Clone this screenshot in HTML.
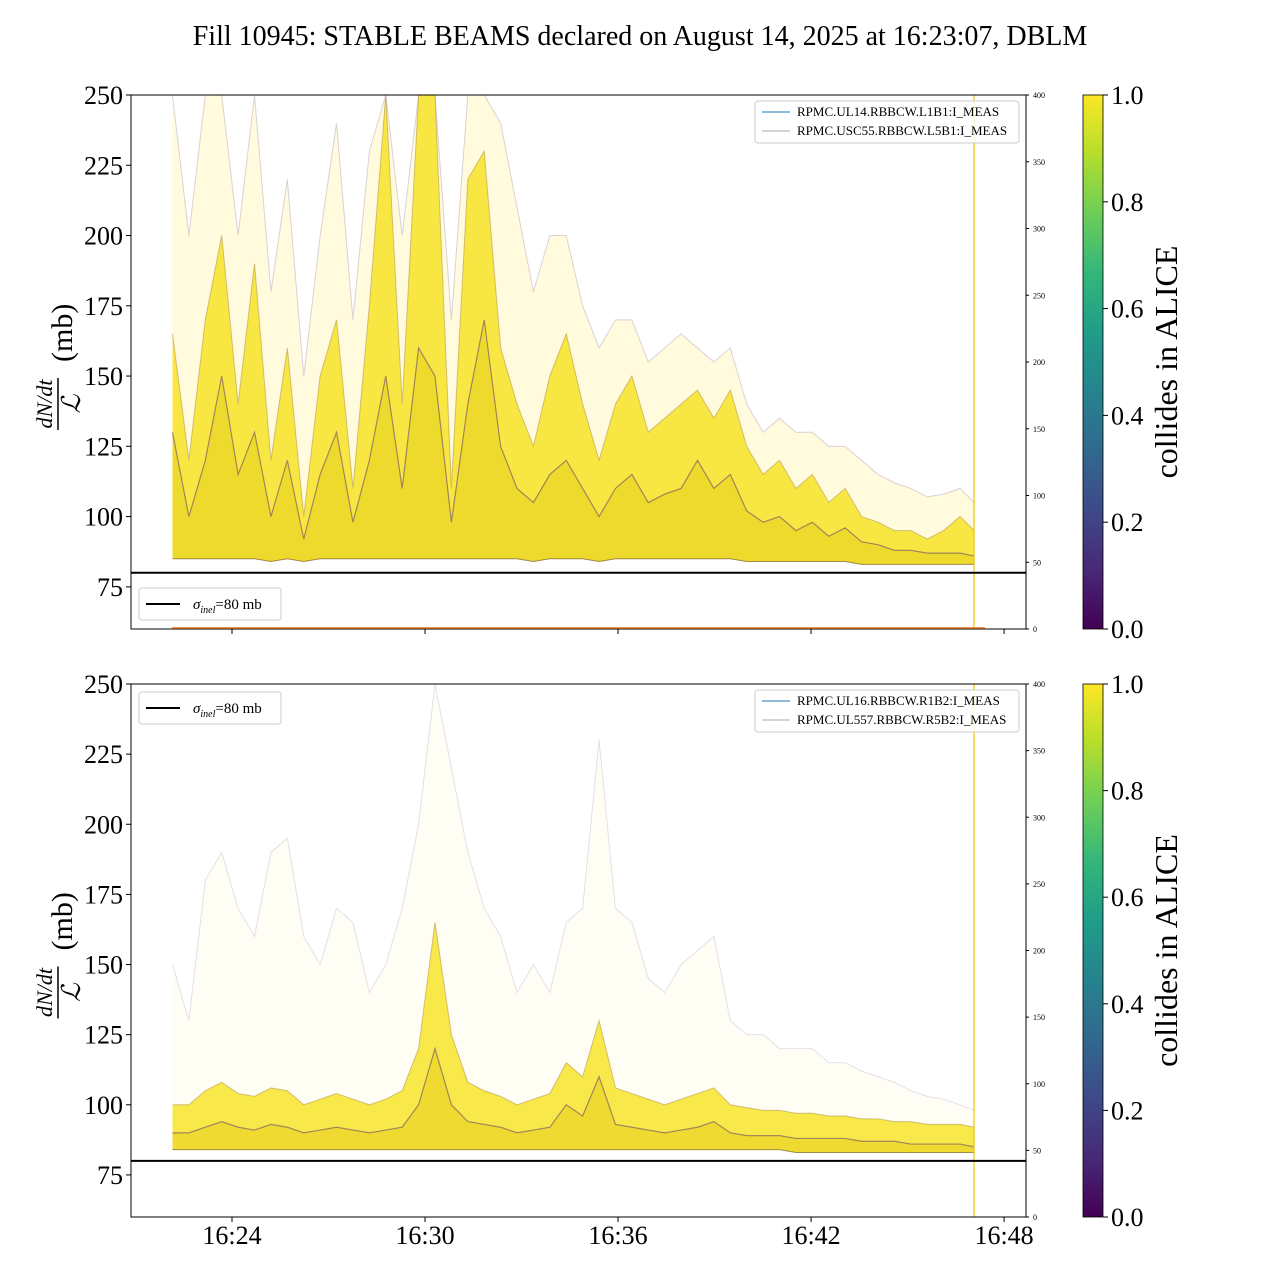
<!DOCTYPE html>
<html><head><meta charset="utf-8">
<style>
html,body{margin:0;padding:0;background:#fff;}
svg text{font-family:"Liberation Serif",serif;}
</style></head>
<body>
<svg id="chart" width="1280" height="1280" xmlns="http://www.w3.org/2000/svg">
<defs>
<linearGradient id="viridis" x1="0" y1="1" x2="0" y2="0">
<stop offset="0" stop-color="#440154"/><stop offset="0.11" stop-color="#482878"/><stop offset="0.22" stop-color="#3e4989"/><stop offset="0.33" stop-color="#31688e"/><stop offset="0.44" stop-color="#26828e"/><stop offset="0.56" stop-color="#1f9e89"/><stop offset="0.67" stop-color="#35b779"/><stop offset="0.78" stop-color="#6ece58"/><stop offset="0.89" stop-color="#b5de2b"/><stop offset="1" stop-color="#fde725"/>
</linearGradient>
</defs>
<text x="640" y="45" font-size="28" text-anchor="middle">Fill 10945: STABLE BEAMS declared on August 14, 2025 at 16:23:07, DBLM</text>
<g id="p0"></g>
<g id="p1"></g>
</svg>
<script>
const times=[22.15,22.66,23.17,23.68,24.19,24.70,25.21,25.72,26.23,26.74,27.25,27.76,28.27,28.78,29.29,29.80,30.31,30.82,31.33,31.84,32.35,32.86,33.37,33.88,34.39,34.90,35.41,35.92,36.43,36.94,37.45,37.96,38.47,38.98,39.49,40.00,40.51,41.02,41.53,42.04,42.55,43.06,43.57,44.08,44.59,45.10,45.61,46.12,46.63,47.07];
const topOuter=[250,200,250,250,200,250,180,220,150,200,240,170,230,250,200,250,250,170,250,250,240,210,180,200,200,175,160,170,170,155,160,165,160,155,160,140,130,135,130,130,125,125,120,115,112,110,107,108,110,105];
const topUpper=[165,120,170,200,140,190,120,160,100,150,170,110,175,250,140,250,250,110,220,230,160,140,125,150,165,140,120,140,150,130,135,140,145,135,145,125,115,120,110,115,105,110,100,98,95,95,92,95,100,95];
const topMid=[130,100,120,150,115,130,100,120,92,115,130,98,120,150,110,160,150,98,140,170,125,110,105,115,120,110,100,110,115,105,108,110,120,110,115,102,98,100,95,98,93,96,91,90,88,88,87,87,87,86];
const topLower=[85,85,85,85,85,85,84,85,84,85,85,85,85,85,85,85,85,85,85,85,85,85,84,85,85,85,84,85,85,85,85,85,85,85,85,84,84,84,84,84,84,84,83,83,83,83,83,83,83,83];
const botOuter=[150,130,180,190,170,160,190,195,160,150,170,165,140,150,170,200,250,220,190,170,160,140,150,140,165,170,230,170,165,145,140,150,155,160,130,125,125,120,120,120,115,115,112,110,108,105,103,102,100,98];
const botUpper=[100,100,105,108,104,103,106,105,100,102,104,102,100,102,105,120,165,125,108,105,103,100,102,104,115,110,130,106,104,102,100,102,104,106,100,99,98,98,97,97,96,96,95,95,94,94,93,93,93,92];
const botMid=[90,90,92,94,92,91,93,92,90,91,92,91,90,91,92,100,120,100,94,93,92,90,91,92,100,96,110,93,92,91,90,91,92,94,90,89,89,89,88,88,88,88,87,87,87,86,86,86,86,85];
const botLower=[84,84,84,84,84,84,84,84,84,84,84,84,84,84,84,84,84,84,84,84,84,84,84,84,84,84,84,84,84,84,84,84,84,84,84,84,84,84,83,83,83,83,83,83,83,83,83,83,83,83];
const yTicks=[75,100,125,150,175,200,225,250];
const rTicks=[0,50,100,150,200,250,300,350,400];
const xTicks=[24,30,36,42,48];
const xTickLabels=["16:24","16:30","16:36","16:42","16:48"];
const cbTicks=[0,0.2,0.4,0.6,0.8,1.0];

const NS="http://www.w3.org/2000/svg";
function mk(tag,attrs,parent){const e=document.createElementNS(NS,tag);for(const k in attrs)e.setAttribute(k,attrs[k]);parent.appendChild(e);return e;}
const L=131,R=1026;
const xs=t=>232+(t-24)*32.17;

function panel(g,top,bot,outer,upper,mid,lower,legNames,sigTop,outerOp,outerLineOp){
  const ys=v=>top+(250-v)*(bot-top)/190;
  const yr=v=>bot-v*(bot-top)/400;
  const cp=mk('clipPath',{id:'c'+top},g);mk('rect',{x:L,y:top,width:R-L,height:bot-top},cp);
  const dg=mk('g',{'clip-path':'url(#c'+top+')'},g);
  function band(a,b,fill,op,name){
    let d='M'+times.map((t,i)=>xs(t)+','+ys(a[i])).join('L');
    for(let i=times.length-1;i>=0;i--)d+='L'+xs(times[i])+','+ys(b[i]);
    const p=mk('path',{d:d+'Z',fill:fill,'fill-opacity':op},dg);
    
    
  }
  function line(a,col,op,w,name){
    const p=mk('path',{d:'M'+times.map((t,i)=>xs(t)+','+ys(a[i])).join('L'),fill:'none',stroke:col,'stroke-opacity':op,'stroke-width':w},dg);
    
    
  }
  band(outer,lower,'#fde725',outerOp,'outer-envelope');
  band(upper,lower,'#f5e010',0.75,'dense-band');
  band(mid,lower,'#e8d020',0.6,'core-band');
  line(outer,'#9a7fb0',outerLineOp,1,'outer-trace');
  line(upper,'#b89a50',0.6,1,'upper-trace');
  line(mid,'#6a4a70',0.6,1.2,'median-trace');
  line(lower,'#8a7030',0.8,1,'lower-trace');
  const vl=mk('line',{x1:974,x2:974,y1:top,y2:bot,stroke:'#e8c800','stroke-width':1.2},g);
  
  const sl=mk('line',{x1:L,x2:R,y1:ys(80),y2:ys(80),stroke:'#000','stroke-width':2},g);
  
  mk('rect',{x:L,y:top,width:R-L,height:bot-top,fill:'none',stroke:'#000','stroke-width':1},g);
  yTicks.forEach(v=>{const y=ys(v);mk('line',{x1:L-5,x2:L,y1:y,y2:y,stroke:'#000'},g);
    const tx=mk('text',{x:L-8,y:y+9,'font-size':26,'text-anchor':'end'},g);tx.textContent=v;
    });
  rTicks.forEach(v=>{const y=yr(v);mk('line',{x1:R,x2:R+3,y1:y,y2:y,stroke:'#000'},g);
    const tx=mk('text',{x:R+7,y:y+3,'font-size':8},g);tx.textContent=v;
    });
  xTicks.forEach(t=>{mk('line',{x1:xs(t),x2:xs(t),y1:bot,y2:bot+5,stroke:'#000'},g);});
  const yl=mk('g',{transform:'translate(62,'+((top+bot)/2)+') rotate(-90)'},g);
  
  let t1=mk('text',{x:-42,y:-10,'font-size':22,'font-style':'italic','text-anchor':'middle'},yl);t1.textContent='dN/dt';
  mk('line',{x1:-68,x2:-16,y1:-4,y2:-4,stroke:'#000','stroke-width':1.5},yl);
  let t2=mk('text',{x:-42,y:18,'font-size':26,'font-style':'italic','text-anchor':'middle'},yl);t2.textContent='ℒ';
  let t3=mk('text',{x:0,y:10,'font-size':30},yl);t3.textContent='(mb)';
  const lg=mk('g',{},g);
  mk('rect',{x:755,y:top+6,width:264,height:42,rx:3,fill:'#fff','fill-opacity':0.85,stroke:'#ccc'},lg);
  mk('line',{x1:762,x2:790,y1:top+17,y2:top+17,stroke:'#1f77b4'},lg);
  mk('line',{x1:762,x2:790,y1:top+36,y2:top+36,stroke:'#aaa'},lg);
  let l1=mk('text',{x:797,y:top+21,'font-size':13},lg);l1.textContent=legNames[0];
  let l2=mk('text',{x:797,y:top+40,'font-size':13},lg);l2.textContent=legNames[1];
  const sg=mk('g',{},g);
  mk('rect',{x:139,y:sigTop,width:142,height:32,rx:3,fill:'#fff','fill-opacity':0.9,stroke:'#ccc'},sg);
  mk('line',{x1:146,x2:180,y1:sigTop+16,y2:sigTop+16,stroke:'#000','stroke-width':2},sg);
  let st=mk('text',{x:193,y:sigTop+21,'font-size':15},sg);
  st.innerHTML='<tspan font-style="italic">σ</tspan><tspan font-style="italic" font-size="10" dy="4">inel</tspan><tspan dy="-4">=80 mb</tspan>';
  const cb=mk('g',{},g);
  mk('rect',{x:1083,y:top,width:20,height:bot-top,fill:'url(#viridis)',stroke:'#000','stroke-width':0.8},cb);
  cbTicks.forEach(v=>{const y=bot-v*(bot-top);mk('line',{x1:1103,x2:1108,y1:y,y2:y,stroke:'#000'},cb);
    const tx=mk('text',{x:1111,y:y+9,'font-size':26},cb);tx.textContent=v.toFixed(1);
    });
  const ct=mk('text',{x:0,y:0,'font-size':32,'text-anchor':'middle',transform:'translate(1177,'+((top+bot)/2)+') rotate(-90)'},cb);
  ct.textContent='collides in ALICE';
  
}
panel(document.getElementById('p0'),95,629,topOuter,topUpper,topMid,topLower,['RPMC.UL14.RBBCW.L1B1:I_MEAS','RPMC.USC55.RBBCW.L5B1:I_MEAS'],588,0.16,0.35);
mk('line',{x1:172,x2:985,y1:628,y2:628,stroke:'#e07020','stroke-width':1.5},document.getElementById('p0'));
panel(document.getElementById('p1'),684,1217,botOuter,botUpper,botMid,botLower,['RPMC.UL16.RBBCW.R1B2:I_MEAS','RPMC.UL557.RBBCW.R5B2:I_MEAS'],692,0.05,0.25);
const p1=document.getElementById('p1');
xTicks.forEach((t,i)=>{const tx=mk('text',{x:xs(t),y:1244,'font-size':26,'text-anchor':'middle'},p1);tx.textContent=xTickLabels[i];
  
  });
</script>
</body></html>
